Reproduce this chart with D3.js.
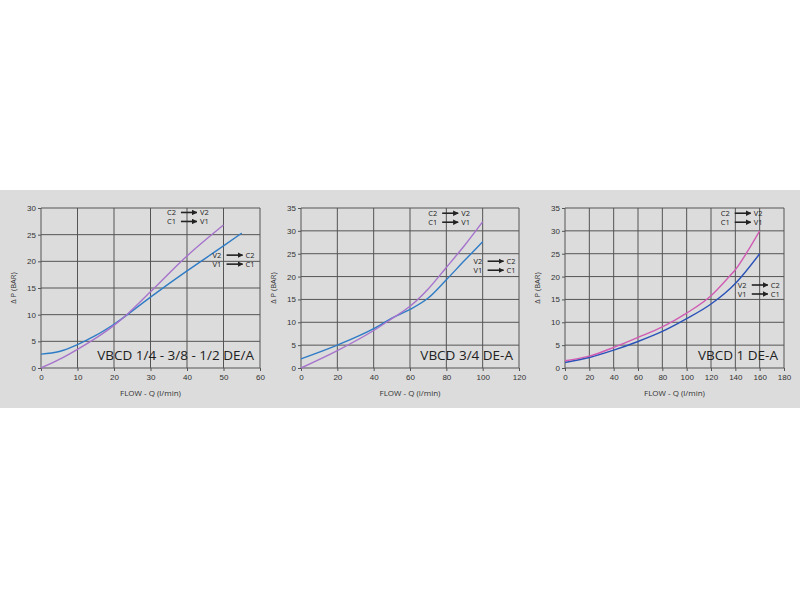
<!DOCTYPE html>
<html lang="en">
<head>
<meta charset="UTF-8" />
<script src="https://d3js.org/d3.v7.min.js"></script>
<style>
  body { margin: 0; background: #fff; font-family: "Open Sans", "DejaVu Sans", sans-serif; }
  .tick text { font-size: 8px; fill: #333; }
</style>
</head>
<body>
<svg id="chart" width="800" height="600"></svg>
<script>
// chart 1: VBCD 1/4 - 3/8 - 1/2 DE/A
const c1Title = "VBCD 1/4 - 3/8 - 1/2 DE/A";
const c1XTicks = [0, 10, 20, 30, 40, 50, 60];
const c1YTicks = [0, 5, 10, 15, 20, 25, 30];
const c1Cv = [[0, 0], [5, 1.6], [10, 3.5], [15, 5.6], [20, 8], [23.5, 10], [30, 14.3], [40, 21], [50, 26.8]];
const c1Vc = [[0, 2.6], [5, 3.1], [10, 4.4], [15, 6.1], [20, 8.2], [30, 13.3], [40, 18.2], [50, 22.9], [55, 25.3]];

// chart 2: VBCD 3/4 DE-A
const c2Title = "VBCD 3/4 DE-A";
const c2XTicks = [0, 20, 40, 60, 80, 100, 120];
const c2YTicks = [0, 5, 10, 15, 20, 25, 30, 35];
const c2Cv = [[0, 0], [20, 3.8], [40, 8.2], [50, 10.8], [60, 13.5], [70, 17.3], [80, 22], [90, 26.8], [100, 32]];
const c2Vc = [[0, 2], [20, 5], [40, 8.6], [50, 10.9], [60, 12.8], [70, 15.3], [80, 19.3], [90, 23.5], [100, 27.6]];

// chart 3: VBCD 1 DE-A
const c3Title = "VBCD 1 DE-A";
const c3XTicks = [0, 20, 40, 60, 80, 100, 120, 140, 160, 180];
const c3YTicks = [0, 5, 10, 15, 20, 25, 30, 35];
const c3Cv = [[0, 1.6], [20, 2.6], [40, 4.5], [60, 6.7], [80, 9], [100, 12], [120, 15.8], [135, 20], [140, 21.5], [150, 25.5], [160, 30]];
const c3Vc = [[0, 1.2], [20, 2.3], [40, 3.9], [60, 5.8], [80, 8], [100, 10.8], [120, 14], [140, 18.5], [160, 25]];

const svg = d3.select("#chart");
svg.append("rect").attr("x", 0).attr("y", 190).attr("width", 800).attr("height", 218).attr("fill", "#dcdcdc");

const arrowDefs = svg.append("defs");
arrowDefs.append("marker").attr("id", "arr").attr("viewBox", "0 0 10 10")
  .attr("refX", 9).attr("refY", 5).attr("markerWidth", 3.5).attr("markerHeight", 3.5)
  .attr("orient", "auto").append("path").attr("d", "M0,0L10,5L0,10z").attr("fill", "#222");

const panels = [
  { left: 41, right: 260, x: c1XTicks, y: c1YTicks, cv: c1Cv, vc: c1Vc, title: c1Title,
    cvColor: "#a673cc", vcColor: "#2f7cc6", cvLab: [34.5, 28.6], vcLab: [47, 20.6] },
  { left: 301, right: 519, x: c2XTicks, y: c2YTicks, cv: c2Cv, vc: c2Vc, title: c2Title,
    cvColor: "#a673cc", vcColor: "#2f7cc6", cvLab: [70, 33.2], vcLab: [95, 22.7] },
  { left: 565, right: 784, x: c3XTicks, y: c3YTicks, cv: c3Cv, vc: c3Vc, title: c3Title,
    cvColor: "#d05cb3", vcColor: "#2a52b8", cvLab: [128, 33.2], vcLab: [142, 17.5] }
];

panels.forEach(p => {
  const x = d3.scaleLinear().domain(d3.extent(p.x)).range([p.left, p.right]);
  const y = d3.scaleLinear().domain(d3.extent(p.y)).range([368, 208]);
  const g = svg.append("g");

  g.selectAll(".gx").data(p.x).join("line")
    .attr("x1", d => x(d)).attr("x2", d => x(d)).attr("y1", 208).attr("y2", 368)
    .attr("stroke", "#555").attr("stroke-width", 1);
  g.selectAll(".gy").data(p.y).join("line")
    .attr("y1", d => y(d)).attr("y2", d => y(d)).attr("x1", p.left).attr("x2", p.right)
    .attr("stroke", "#555").attr("stroke-width", 1);

  g.append("g").attr("transform", "translate(0,368)")
    .call(d3.axisBottom(x).tickValues(p.x).tickSize(3).tickPadding(3))
    .call(a => a.select(".domain").remove())
    .call(a => a.selectAll("line").attr("stroke", "#555"));
  g.append("g").attr("transform", `translate(${p.left},0)`)
    .call(d3.axisLeft(y).tickValues(p.y).tickSize(3).tickPadding(2))
    .call(a => a.select(".domain").remove())
    .call(a => a.selectAll("line").attr("stroke", "#555"));

  const line = d3.line().x(d => x(d[0])).y(d => y(d[1])).curve(d3.curveMonotoneX);
  g.append("path").datum(p.vc).attr("d", line).attr("fill", "none")
    .attr("stroke", p.vcColor).attr("stroke-width", 1.4);
  g.append("path").datum(p.cv).attr("d", line).attr("fill", "none")
    .attr("stroke", p.cvColor).attr("stroke-width", 1.4);

  g.append("text").attr("x", p.right - 6).attr("y", 360).attr("text-anchor", "end")
    .attr("font-size", 13.5).attr("fill", "#222").text(p.title);

  g.append("text").attr("x", (p.left + p.right) / 2).attr("y", 396).attr("text-anchor", "middle")
    .attr("font-size", 8).attr("fill", "#333").text("FLOW - Q (l/min)");
  g.append("text").attr("transform", `translate(${p.left - 25},288) rotate(-90)`)
    .attr("text-anchor", "middle").attr("font-size", 7.5).attr("fill", "#333")
    .text("\u0394  P (BAR)");

  function flowLabel(pos, a1, b1, a2, b2) {
    const lx = x(pos[0]), ly = y(pos[1]);
    [[a1, b1, 0], [a2, b2, 9]].forEach(([a, b, dy]) => {
      g.append("text").attr("x", lx).attr("y", ly + dy).attr("font-size", 7.5)
        .attr("fill", "#222").text(a);
      g.append("line").attr("x1", lx + 14).attr("x2", lx + 30)
        .attr("y1", ly + dy - 3).attr("y2", ly + dy - 3)
        .attr("stroke", "#222").attr("stroke-width", 1.6).attr("marker-end", "url(#arr)");
      g.append("text").attr("x", lx + 33).attr("y", ly + dy).attr("font-size", 7.5)
        .attr("fill", "#222").text(b);
    });
  }
  flowLabel(p.cvLab, "C2", "V2", "C1", "V1");
  flowLabel(p.vcLab, "V2", "C2", "V1", "C1");
});
</script>
</body>
</html>
